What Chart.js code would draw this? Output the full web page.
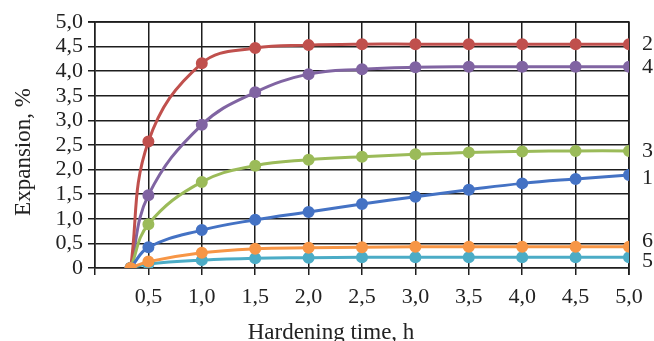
<!DOCTYPE html>
<html>
<head>
<meta charset="utf-8">
<script src="https://cdn.jsdelivr.net/npm/chart.js@4/dist/chart.umd.min.js"></script>
<style>
  html, body { margin: 0; padding: 0; background: #fff; }
  #wrap { width: 654px; height: 341px; }
</style>
</head>
<body>
<div id="wrap"><canvas id="chart" width="654" height="341"></canvas></div>
<script>
// hardening time, h (first point is 20 min)
const hours = [1 / 3, 0.5, 1.0, 1.5, 2.0, 2.5, 3.0, 3.5, 4.0, 4.5, 5.0];

// expansion, % for each curve
const curve1 = [0, 0.42, 0.77, 0.98, 1.14, 1.30, 1.45, 1.59, 1.72, 1.81, 1.89];
const curve2 = [0, 2.57, 4.16, 4.47, 4.53, 4.55, 4.55, 4.55, 4.55, 4.55, 4.55];
const curve3 = [0, 0.89, 1.75, 2.08, 2.20, 2.26, 2.31, 2.35, 2.37, 2.38, 2.38];
const curve4 = [0, 1.48, 2.91, 3.57, 3.94, 4.04, 4.08, 4.09, 4.09, 4.09, 4.09];
const curve5 = [0, 0.08, 0.16, 0.20, 0.21, 0.22, 0.22, 0.22, 0.22, 0.22, 0.22];
const curve6 = [0, 0.13, 0.31, 0.39, 0.41, 0.42, 0.43, 0.43, 0.43, 0.43, 0.43];

const curveNames = ['1', '2', '3', '4', '5', '6'];

const FONT = "'Liberation Serif', 'Times New Roman', serif";
const TEXT = '#222';
const GRID = '#1e1e1e';

const toPoints = vals => vals.map((v, i) => ({ x: hours[i], y: v }));

const makeSet = (name, vals, color) => ({
  label: name,
  data: toPoints(vals),
  borderColor: color,
  backgroundColor: color,
  borderWidth: 3,
  pointRadius: 4.5,
  pointHoverRadius: 4.5,
  tension: 0.4,
  fill: false
});

// little nudges so the end labels don't collide
const labelNudge = { '1': 3, '2': 0, '3': 0, '4': 0, '5': 4, '6': -6 };

const endLabels = {
  id: 'endLabels',
  afterDatasetsDraw(chart) {
    const ctx = chart.ctx;
    ctx.save();
    ctx.font = '22px ' + FONT;
    ctx.fillStyle = TEXT;
    ctx.textAlign = 'left';
    ctx.textBaseline = 'middle';
    chart.data.datasets.forEach((ds, i) => {
      const meta = chart.getDatasetMeta(i);
      const last = meta.data[meta.data.length - 1];
      ctx.fillText(ds.label, last.x + 13, last.y + (labelNudge[ds.label] || 0));
    });
    ctx.restore();
  }
};

// top and right edges of the plot box
const frame = {
  id: 'frame',
  beforeDatasetsDraw(chart) {
    const { ctx, chartArea: a } = chart;
    ctx.save();
    ctx.strokeStyle = GRID;
    ctx.lineWidth = 1.5;
    ctx.beginPath();
    ctx.moveTo(a.left, a.top);
    ctx.lineTo(a.right, a.top);
    ctx.lineTo(a.right, a.bottom + 7);
    ctx.moveTo(a.left - 7, a.top);
    ctx.lineTo(a.left, a.top);
    ctx.stroke();
    ctx.restore();
  }
};

const axisTitles = {
  id: 'axisTitles',
  afterDraw(chart) {
    const ctx = chart.ctx;
    const area = chart.chartArea;
    ctx.save();
    ctx.font = '23px ' + FONT;
    ctx.fillStyle = TEXT;
    ctx.textAlign = 'center';
    ctx.textBaseline = 'alphabetic';
    ctx.fillText('Hardening time, h', area.left + 236, 339);
    ctx.translate(30, (area.top + area.bottom) / 2 + 7);
    ctx.rotate(-Math.PI / 2);
    ctx.fillText('Expansion, %', 0, 0);
    ctx.restore();
  }
};

const commaNum = v => (v === 0 ? '0' : v.toFixed(1).replace('.', ','));

new Chart(document.getElementById('chart'), {
  type: 'line',
  data: {
    datasets: [
      makeSet(curveNames[5], curve6, '#F79646'),
      makeSet(curveNames[4], curve5, '#4BACC6'),
      makeSet(curveNames[0], curve1, '#4472C4'),
      makeSet(curveNames[2], curve3, '#9BBB59'),
      makeSet(curveNames[1], curve2, '#C0504D'),
      makeSet(curveNames[3], curve4, '#8064A2')
    ]
  },
  options: {
    responsive: false,
    animation: false,
    layout: { padding: { top: 22, right: 25, left: 0, bottom: 0 } },
    plugins: {
      legend: { display: false },
      tooltip: { enabled: false }
    },
    scales: {
      x: {
        type: 'linear',
        min: 0,
        max: 5,
        afterFit(scale) { scale.height = 73; },
        afterBuildTicks(scale) {
          scale.ticks = hours.slice(1).map(v => ({ value: v }));
          scale.ticks.unshift({ value: 0 });
        },
        ticks: {
          color: TEXT,
          font: { family: FONT, size: 22 },
          padding: 9,
          maxRotation: 0,
          autoSkip: false,
          callback: v => (v === 0 ? '' : commaNum(v))
        },
        grid: { color: GRID, lineWidth: 1.5, tickLength: 7 },
        border: { color: GRID, width: 1.5 }
      },
      y: {
        min: 0,
        max: 5,
        afterFit(scale) { scale.width = 95; },
        ticks: {
          stepSize: 0.5,
          autoSkip: false,
          color: TEXT,
          font: { family: FONT, size: 22 },
          padding: 5,
          callback: v => commaNum(v)
        },
        grid: { color: GRID, lineWidth: 1.5, tickLength: 7 },
        border: { color: GRID, width: 1.5 }
      }
    }
  },
  plugins: [frame, endLabels, axisTitles]
});
</script>
</body>
</html>
